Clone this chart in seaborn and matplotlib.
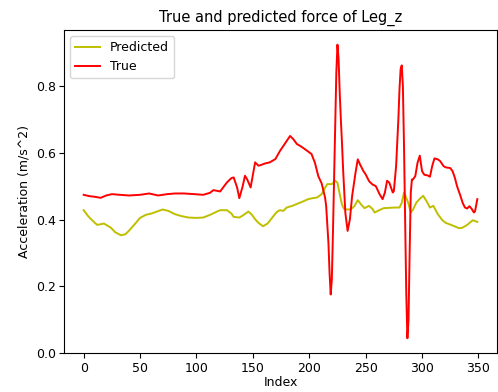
import numpy as np
import pandas as pd
import matplotlib
matplotlib.use("Agg")
import matplotlib.pyplot as plt
import seaborn as sns

# 값은 그림에서 읽어 온 것 (index, value)
true_idx = [0, 5, 10, 15, 20, 25, 32, 40, 50, 58, 66, 74, 81, 89, 98, 106,
            112, 115, 121, 127, 131, 133, 136, 138, 141, 143, 145, 148, 152,
            155, 157, 161, 165, 170, 174, 178, 181, 183, 186, 189, 193, 198,
            202, 205, 208, 211, 214, 215, 217, 218, 219, 220, 221, 222, 223,
            224, 225, 226, 227, 228, 229, 230, 232, 234, 236, 238, 241, 243,
            245, 248, 250, 253, 256, 259, 262, 265, 267, 269, 271, 274, 275,
            277, 279, 280, 281, 282, 283, 284, 285, 286, 287, 288, 289, 290,
            291, 292, 294, 296, 298, 300, 302, 305, 307, 309, 311, 314, 316,
            319, 321, 325, 327, 329, 331, 334, 336, 338, 340, 342, 344, 346,
            347, 349]
true_val = [0.474, 0.470, 0.468, 0.465, 0.472, 0.476, 0.474, 0.472, 0.474,
            0.478, 0.472, 0.476, 0.478, 0.478, 0.476, 0.474, 0.480, 0.488,
            0.484, 0.511, 0.524, 0.526, 0.496, 0.464, 0.500, 0.531, 0.520,
            0.496, 0.571, 0.561, 0.563, 0.568, 0.571, 0.581, 0.605, 0.625,
            0.640, 0.650, 0.640, 0.626, 0.618, 0.606, 0.596, 0.570, 0.530,
            0.508, 0.466, 0.440, 0.330, 0.240, 0.176, 0.220, 0.360, 0.520,
            0.680, 0.840, 0.923, 0.880, 0.780, 0.700, 0.630, 0.550, 0.420,
            0.366, 0.400, 0.470, 0.540, 0.580, 0.565, 0.545, 0.535, 0.515,
            0.505, 0.500, 0.478, 0.461, 0.480, 0.516, 0.510, 0.481, 0.485,
            0.560, 0.700, 0.790, 0.850, 0.861, 0.800, 0.620, 0.400, 0.180,
            0.045, 0.100, 0.300, 0.480, 0.520, 0.520, 0.530, 0.570, 0.591,
            0.545, 0.534, 0.532, 0.528, 0.560, 0.583, 0.580, 0.575, 0.560,
            0.556, 0.554, 0.545, 0.526, 0.500, 0.471, 0.450, 0.436, 0.433,
            0.440, 0.432, 0.421, 0.425, 0.461]

pred_idx = [0, 4, 8, 12, 18, 24, 28, 33, 37, 40, 45, 50, 55, 60, 65, 70, 75,
            81, 87, 93, 100, 106, 112, 117, 121, 127, 131, 133, 138, 141, 146,
            149, 152, 155, 159, 163, 167, 171, 174, 177, 180, 185, 190, 195,
            199, 203, 207, 211, 214, 216, 220, 223, 225, 227, 229, 231, 234,
            237, 240, 243, 246, 249, 253, 256, 258, 262, 266, 271, 276, 280,
            282, 284, 286, 288, 290, 292, 295, 298, 301, 304, 307, 310, 314,
            318, 321, 325, 328, 333, 336, 340, 345, 349]
pred_val = [0.428, 0.410, 0.396, 0.384, 0.388, 0.376, 0.362, 0.353, 0.356,
            0.366, 0.385, 0.405, 0.414, 0.418, 0.424, 0.430, 0.426, 0.416,
            0.410, 0.406, 0.405, 0.406, 0.414, 0.422, 0.428, 0.428, 0.418,
            0.408, 0.406, 0.412, 0.424, 0.415, 0.401, 0.390, 0.380, 0.388,
            0.405, 0.422, 0.428, 0.426, 0.436, 0.441, 0.448, 0.455, 0.461,
            0.464, 0.466, 0.476, 0.495, 0.506, 0.506, 0.516, 0.510, 0.476,
            0.445, 0.431, 0.430, 0.431, 0.440, 0.458, 0.445, 0.434, 0.441,
            0.432, 0.421, 0.428, 0.434, 0.435, 0.436, 0.436, 0.450, 0.481,
            0.465, 0.448, 0.421, 0.430, 0.451, 0.462, 0.471, 0.455, 0.436,
            0.441, 0.416, 0.398, 0.390, 0.385, 0.381, 0.374, 0.376, 0.384,
            0.398, 0.393]

df_pred = pd.DataFrame({"Index": pred_idx, "value": pred_val})
df_true = pd.DataFrame({"Index": true_idx, "value": true_val})

fig = plt.figure(figsize=(4.98, 3.92), dpi=100)
ax = fig.add_axes([0.1285, 0.0987, 0.8695, 0.8248])

sns.lineplot(data=df_pred, x="Index", y="value", color="y", linewidth=1.4,
             label="Predicted", ax=ax)
sns.lineplot(data=df_true, x="Index", y="value", color="r", linewidth=1.4,
             label="True", ax=ax)

ax.set_title("True and predicted force of Leg_z", fontsize=10.5)
ax.set_xlabel("Index", fontsize=9, labelpad=1)
ax.set_ylabel("Acceleration (m/s^2)", fontsize=9)
ax.set_xticks([0, 50, 100, 150, 200, 250, 300, 350])
ax.set_yticks([0.0, 0.2, 0.4, 0.6, 0.8])
ax.tick_params(labelsize=9, pad=2.5)
ax.legend(loc="upper left", fontsize=9)

fig.savefig("out.png", dpi=100)
